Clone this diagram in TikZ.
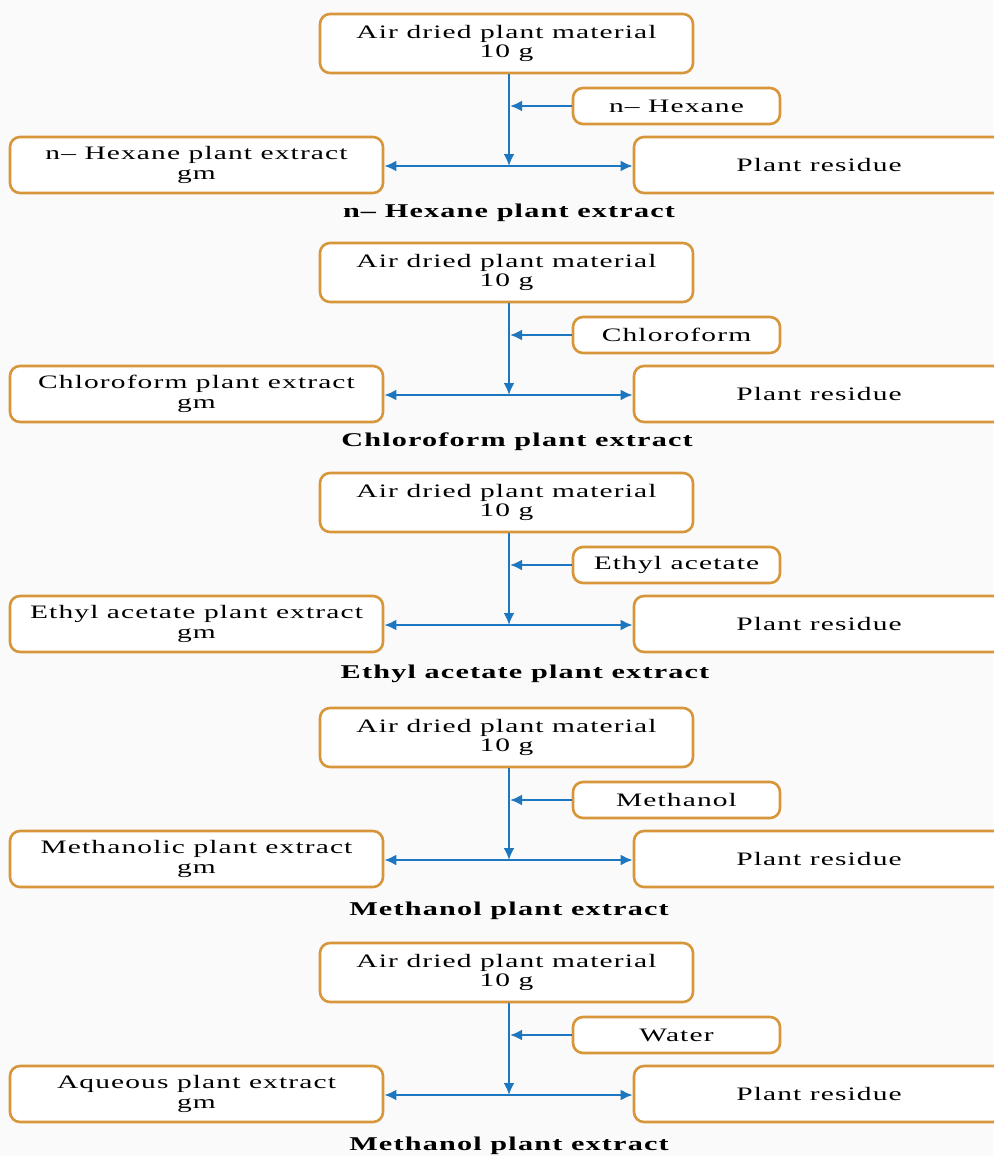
\documentclass[tikz,border=0pt]{standalone}
\usepackage{fontspec}
\setmainfont{Liberation Serif}[FakeStretch=1.55,LetterSpace=6]
\usetikzlibrary{arrows.meta}
\definecolor{boxorange}{RGB}{216,150,58}
\definecolor{flowblue}{RGB}{28,118,192}
\definecolor{bgcol}{RGB}{250,250,250}
\begin{document}
\begin{tikzpicture}[x=1pt,y=-1pt,
  box/.style={draw=boxorange, line width=2.6pt, rounded corners=10pt, fill=white,
    inner sep=0pt, align=center, font=\fontsize{19}{19.5}\selectfont},
  flow/.style={draw=flowblue, line width=2.6pt},
  tipped/.style={-{Latex[length=12pt,width=11pt]}},
  captext/.style={font=\fontsize{19.5}{20}\selectfont\bfseries}]
\fill[bgcol] (0,0) rectangle (993,1156);
\useasboundingbox (0,0) rectangle (993,1156);
\foreach \k/\o/\cx/\cy/\solv/\lt/\capt in {
  1/14/509/213/{n-- Hexane}/{n-- Hexane plant extract\\gm}/{n-- Hexane plant extract},
  2/243/517/442/{Chloroform}/{Chloroform plant extract\\gm}/{Chloroform plant extract},
  3/473/525/674/{Ethyl acetate}/{Ethyl acetate plant extract\\gm}/{Ethyl acetate plant extract},
  4/708/509/911/{Methanol}/{Methanolic plant extract\\gm}/{Methanol plant extract},
  5/943/509/1146/{Water}/{Aqueous plant extract\\gm}/{Methanol plant extract}}{
  \node[box, minimum width=373pt, minimum height=59pt] (top\k) at (506.5,\o+29.5)
    {Air dried plant material\\10 g};
  \node[box, minimum width=207pt, minimum height=36pt] (solv\k) at (676.5,\o+92) {\solv};
  \node[box, minimum width=373pt, minimum height=56pt] (left\k) at (196.5,\o+151) {\lt};
  \node[box, minimum width=370pt, minimum height=56pt] (right\k) at (819,\o+151) {Plant residue};
  \coordinate (j\k) at (509,\o+152);
  \draw[flow,tipped] (top\k.south -| j\k) -- (j\k);
  \draw[flow,tipped] (j\k) -- (j\k -| left\k.east);
  \draw[flow,tipped] (j\k) -- (j\k -| right\k.west);
  \draw[flow,tipped,shorten >=1pt] (solv\k.west) -- (solv\k.west -| j\k);
  \node[captext] (cap\k) at (\cx,\cy) {\capt};
}
\end{tikzpicture}
\end{document}
